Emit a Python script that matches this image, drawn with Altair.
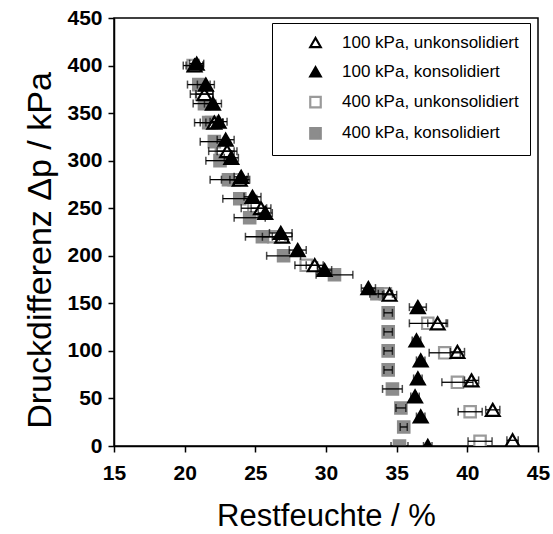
import altair as alt
import pandas as pd

series_names = ["100 kPa, unkonsolidiert", "100 kPa, konsolidiert",
                "400 kPa, unkonsolidiert", "400 kPa, konsolidiert"]

# 100 kPa, unkonsolidiert (open triangles)
ut100_y = [6, 38, 69, 99, 129, 159, 190, 220, 250, 280, 310, 340, 370, 400]
ut100_x = [43.2, 41.8, 40.3, 39.3, 37.9, 34.5, 29.2, 26.9, 25.4, 23.9, 23.0, 22.1, 21.4, 20.7]
ut100_e = [0.4, 0.5, 0.5, 0.5, 0.7, 0.5, 0.6, 0.7, 0.7, 0.7, 0.7, 0.6, 0.6, 0.6]

# 100 kPa, konsolidiert (filled triangles)
k100_y = [0, 31, 52, 71, 90, 111, 146, 166, 185, 206, 224, 245, 262, 283, 303, 322, 341, 360, 380, 402]
k100_x = [37.2, 36.7, 36.3, 36.5, 36.7, 36.4, 36.5, 33.0, 29.9, 28.0, 26.8, 25.7, 24.8, 24.0, 23.3, 22.9, 22.4, 22.0, 21.5, 20.85]
k100_e = [0.3, 0.3, 0.3, 0.3, 0.3, 0.3, 0.6, 0.5, 0.5, 0.6, 0.8, 0.5, 0.6, 0.5, 0.5, 0.6, 0.6, 0.6, 0.6, 0.5]

# 400 kPa, unkonsolidiert (open squares)
u400_y = [5, 36, 67, 98, 129, 160, 190, 220, 250, 280, 310, 340, 370, 400]
u400_x = [40.9, 40.2, 39.3, 38.4, 37.2, 34.2, 28.6, 26.3, 24.9, 23.5, 22.6, 21.9, 21.2, 20.6]
u400_e = [0.85, 0.85, 1.1, 1.1, 1.3, 0.5, 0.8, 0.8, 0.9, 0.9, 0.9, 0.8, 0.8, 0.7]

# 400 kPa, konsolidiert (filled grey squares)
k400_y = [0, 20, 40, 60, 80, 100, 120, 140, 160, 180, 200, 220, 240, 260, 280, 300, 320, 340, 360, 380]
k400_x = [35.2, 35.5, 35.3, 34.7, 34.4, 34.4, 34.4, 34.4, 33.6, 30.6, 27.0, 25.5, 24.6, 23.9, 23.1, 22.5, 22.1, 21.7, 21.4, 21.0]
k400_e = [0.6, 0.25, 0.35, 0.7, 0.3, 0.3, 0.3, 0.3, 0.5, 1.3, 1.2, 1.2, 1.1, 1.2, 1.3, 1.0, 1.0, 1.0, 0.8, 0.8]

x_ticks = [15 + 2.5 * i for i in range(13)]
y_ticks = [25 * i for i in range(19)]

rows = []
draw_order = [
    (series_names[2], u400_x, u400_y, u400_e, 130),
    (series_names[3], k400_x, k400_y, k400_e, 130),
    (series_names[0], ut100_x, ut100_y, ut100_e, 190),
    (series_names[1], k100_x, k100_y, k100_e, 190),
]
for name, xs, ys, es, sz in draw_order:
    for x, y, e in zip(xs, ys, es):
        rows.append(dict(series=name, x=x, y=y, lo=x - e, hi=x + e, sz=sz))
df = pd.DataFrame(rows)

font = "Liberation Sans"

x_scale = alt.Scale(domain=[15, 45], nice=False, zero=False)
y_scale = alt.Scale(domain=[0, 450], nice=False, zero=False)

x_axis = alt.Axis(
    title="Restfeuchte / %", values=x_ticks,
    labelExpr="datum.value % 5 === 0 ? datum.label : ''",
    tickSize={"condition": {"test": "datum.value % 5 === 0", "value": 6}, "value": 3},
    labelFont=font, labelFontSize=21, labelFontWeight="bold", labelColor="black",
    labelPadding=10, titleFont=font, titleFontSize=31, titleFontWeight="normal",
    titleColor="black", titlePadding=18, grid=False, labelFlush=False,
)
y_axis = alt.Axis(
    title="Druckdifferenz Δp / kPa", values=y_ticks,
    labelExpr="datum.value % 50 === 0 ? datum.label : ''",
    tickSize={"condition": {"test": "datum.value % 50 === 0", "value": 6}, "value": 3},
    labelFont=font, labelFontSize=21, labelFontWeight="bold", labelColor="black",
    labelPadding=6, titleFont=font, titleFontSize=34, titleFontWeight="normal",
    titleColor="black", titlePadding=9, titleY=232, grid=False, labelFlush=False,
)

base = alt.Chart(df)

bars = base.mark_rule(color="black", strokeWidth=1.3, clip=True).encode(
    x=alt.X("lo:Q", scale=x_scale, axis=x_axis),
    x2="hi:Q",
    y=alt.Y("y:Q", scale=y_scale, axis=y_axis),
)
cap_lo = base.mark_tick(color="black", orient="vertical", size=8, thickness=1.5, clip=True).encode(
    x=alt.X("lo:Q", scale=x_scale), y=alt.Y("y:Q", scale=y_scale))
cap_hi = base.mark_tick(color="black", orient="vertical", size=8, thickness=1.5, clip=True).encode(
    x=alt.X("hi:Q", scale=x_scale), y=alt.Y("y:Q", scale=y_scale))

legend = alt.Legend(
    title=None, orient="none", legendX=158, legendY=5, padding=11,
    strokeColor="black", fillColor="white", labelFont=font, labelFontSize=17,
    labelColor="black", labelLimit=400, symbolSize=110, symbolOffset=24, labelOffset=18,
    rowPadding=10.3, symbolStrokeWidth=2.2,
)

points = base.mark_point(filled=True, strokeWidth=2.2, opacity=1, clip=True).encode(
    x=alt.X("x:Q", scale=x_scale),
    y=alt.Y("y:Q", scale=y_scale),
    shape=alt.Shape("series:N", scale=alt.Scale(domain=series_names,
                    range=["triangle-up", "triangle-up", "square", "square"]), legend=legend),
    fill=alt.Fill("series:N", scale=alt.Scale(domain=series_names,
                  range=["white", "black", "white", "#8c8c8c"]), legend=legend),
    stroke=alt.Stroke("series:N", scale=alt.Scale(domain=series_names,
                      range=["black", "black", "#9a9a9a", "#8c8c8c"]), legend=legend),
    size=alt.Size("sz:Q", scale=None, legend=None),
    order=alt.value(0),
)

chart = alt.layer(points, bars, cap_lo, cap_hi).properties(
    width=424, height=428,
    padding={"left": 114, "top": 18, "right": 15, "bottom": 88},
    autosize=alt.AutoSizeParams(type="none"),
    background="white",
).configure_view(stroke="black", strokeWidth=1.5).configure_axis(
    domainColor="black", domainWidth=1.5, tickColor="black", tickWidth=1.5,
)

chart.save("out.html", embed_options={"renderer": "svg", "actions": False})
